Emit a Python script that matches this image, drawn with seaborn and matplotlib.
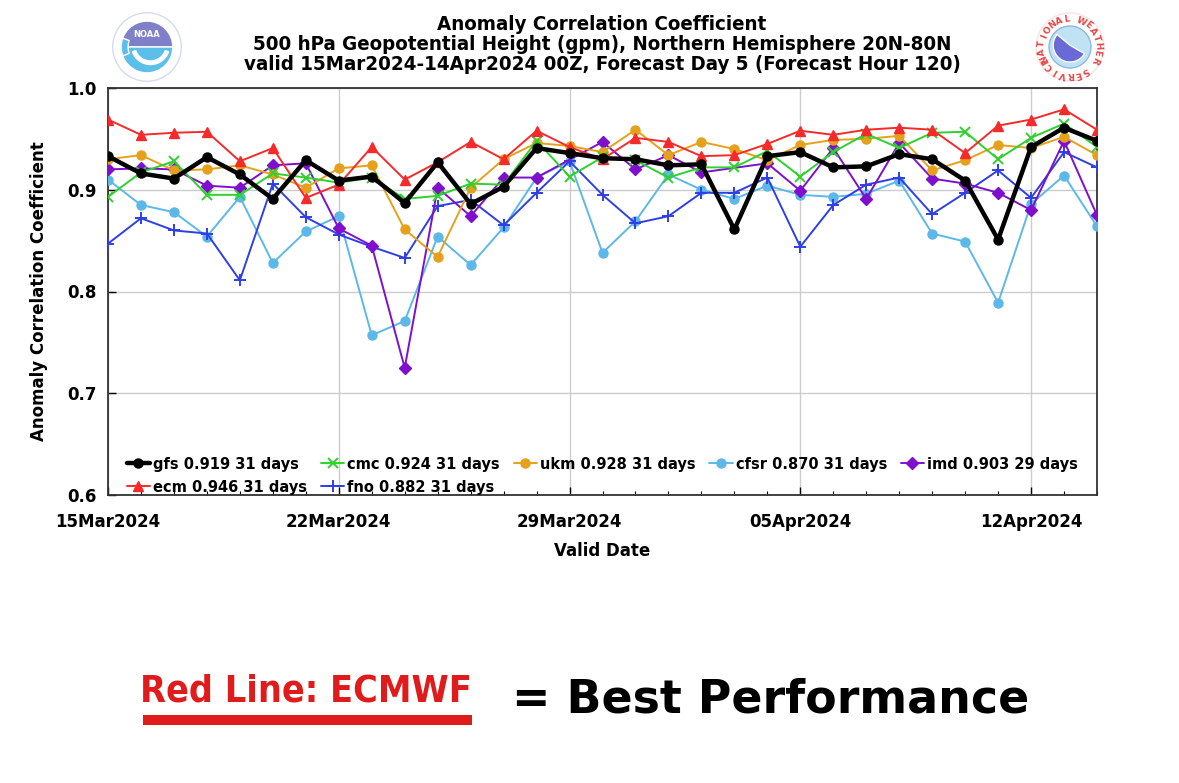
import numpy as np
import pandas as pd
import matplotlib
matplotlib.use('Agg')
import matplotlib.pyplot as plt
import matplotlib.dates as mdates
from matplotlib.patches import Circle, Wedge, Rectangle
import seaborn as sns

# Daily ACC values, 15Mar2024 .. 14Apr2024
dates = pd.date_range('2024-03-15', '2024-04-14', freq='D')

gfs = [0.933, 0.916, 0.911, 0.932, 0.915, 0.891, 0.929, 0.909, 0.913, 0.887,
       0.927, 0.886, 0.903, 0.941, 0.936, 0.931, 0.930, 0.924, 0.925, 0.861,
       0.933, 0.937, 0.922, 0.923, 0.935, 0.930, 0.909, 0.851, 0.942, 0.961, 0.948]
ecm = [0.969, 0.954, 0.956, 0.957, 0.928, 0.941, 0.892, 0.905, 0.942, 0.910,
       0.927, 0.947, 0.930, 0.958, 0.942, 0.930, 0.951, 0.947, 0.933, 0.934,
       0.945, 0.958, 0.954, 0.959, 0.961, 0.959, 0.936, 0.963, 0.969, 0.979, 0.959]
cmc = [0.893, 0.917, 0.928, 0.895, 0.895, 0.916, 0.912, 0.907, 0.912, 0.891,
       0.894, 0.906, 0.905, 0.948, 0.913, 0.932, 0.929, 0.912, 0.922, 0.922,
       0.938, 0.913, 0.937, 0.955, 0.941, 0.956, 0.957, 0.930, 0.951, 0.965, 0.942]
fno = [0.847, 0.872, 0.860, 0.857, 0.811, 0.906, 0.873, 0.856, 0.844, 0.833,
       0.884, 0.890, 0.865, 0.897, 0.928, 0.895, 0.867, 0.874, 0.897, 0.897,
       0.912, 0.844, 0.885, 0.905, 0.912, 0.876, 0.897, 0.919, 0.892, 0.937, 0.922]
ukm = [0.930, 0.934, 0.919, 0.920, 0.924, 0.915, 0.902, 0.921, 0.924, 0.861,
       0.834, 0.902, 0.930, 0.946, 0.943, 0.937, 0.959, 0.934, 0.947, 0.940,
       0.929, 0.944, 0.949, 0.950, 0.953, 0.919, 0.929, 0.944, 0.941, 0.952, 0.934]
cfsr = [0.910, 0.885, 0.878, 0.854, 0.893, 0.828, 0.859, 0.874, 0.757, 0.771,
        0.854, 0.826, 0.863, 0.912, 0.928, 0.838, 0.869, 0.915, 0.900, 0.891,
        0.904, 0.895, 0.893, 0.896, 0.909, 0.857, 0.849, 0.789, 0.886, 0.914, 0.864]
imd = [0.920, 0.921, 0.920, 0.904, 0.902, 0.924, 0.926, 0.862, 0.845, 0.725,
       0.902, 0.874, 0.912, 0.912, np.nan, 0.947, 0.920, 0.934, 0.917, np.nan,
       0.926, 0.899, 0.941, 0.891, 0.946, 0.911, 0.906, 0.897, 0.880, 0.948, 0.875]

# legend order (column-wise fill gives the two reference rows)
labels = {
    'gfs': 'gfs 0.919 31 days', 'ecm': 'ecm 0.946 31 days',
    'cmc': 'cmc 0.924 31 days', 'fno': 'fno 0.882 31 days',
    'ukm': 'ukm 0.928 31 days', 'cfsr': 'cfsr 0.870 31 days',
    'imd': 'imd 0.903 29 days',
}
series = {'gfs': gfs, 'ecm': ecm, 'cmc': cmc, 'fno': fno,
          'ukm': ukm, 'cfsr': cfsr, 'imd': imd}
styles = {
    'ecm':  dict(color='#f52a2a', marker='^', ms=7.5, lw=1.4),
    'cmc':  dict(color='#2fd12f', marker='x', ms=7, lw=1.4, mew=1.4),
    'ukm':  dict(color='#e6a11c', marker='o', ms=6.5, lw=1.4),
    'cfsr': dict(color='#5cb8e8', marker='o', ms=6.5, lw=1.4),
    'imd':  dict(color='#7f0fcc', marker='D', ms=6, lw=1.4),
    'fno':  dict(color='#2f3fe6', marker='+', ms=9, lw=1.4, mew=1.4),
    'gfs':  dict(color='black', marker='o', ms=6.5, lw=3.2),
}
title_lines = ['Anomaly Correlation Coefficient',
               '500 hPa Geopotential Height (gpm), Northern Hemisphere 20N-80N',
               'valid 15Mar2024-14Apr2024 00Z, Forecast Day 5 (Forecast Hour 120)']

sns.set_theme(style='white')
plt.rcParams['font.family'] = ['DejaVu Sans']
plt.rcParams.update({'text.color': 'black', 'axes.labelcolor': 'black',
                     'xtick.color': 'black', 'ytick.color': 'black'})

fig = plt.figure(figsize=(11.79, 7.83), dpi=100)
ax = fig.add_axes([108 / 1179, 1 - 495 / 783, (1097 - 108) / 1179, (495 - 88) / 783])

handles = {}
for name in ['cfsr', 'fno', 'imd', 'ukm', 'cmc', 'ecm', 'gfs']:
    df = pd.DataFrame({'date': dates, 'acc': series[name]}).dropna()
    st = styles[name]
    sns.lineplot(data=df, x='date', y='acc', ax=ax, color=st['color'],
                 marker=st['marker'], markersize=st['ms'], linewidth=st['lw'],
                 markeredgecolor=st['color'], markeredgewidth=st.get('mew', 1.0),
                 zorder=5 if name == 'gfs' else 3)
    handles[name] = ax.lines[-1]

ax.set_xlim(dates[0], dates[-1])
ax.set_ylim(0.6, 1.0)
ax.set_yticks([0.6, 0.7, 0.8, 0.9, 1.0])
ax.set_yticklabels(['0.6', '0.7', '0.8', '0.9', '1.0'])
ax.xaxis.set_major_locator(mdates.DayLocator(bymonthday=[15, 22, 29, 5, 12]))
ax.xaxis.set_major_formatter(mdates.DateFormatter('%d%b%Y'))
ax.xaxis.set_minor_locator(mdates.DayLocator())
ax.grid(True, which='major', color='#cccccc', linewidth=1.0)
ax.tick_params(axis='both', which='major', direction='in', length=6,
               labelsize=12, width=1)
ax.tick_params(axis='x', which='major', pad=13, bottom=True)
ax.tick_params(axis='y', which='major', pad=8, left=True)
ax.tick_params(axis='x', which='minor', direction='in', length=3, width=0.8,
               bottom=True)
for lab in ax.get_xticklabels() + ax.get_yticklabels():
    lab.set_fontweight('bold')
for sp in ax.spines.values():
    sp.set_color('#333333')
    sp.set_linewidth(1.3)

ax.set_xlabel('Valid Date', fontsize=12, fontweight='bold', labelpad=8)
ax.set_ylabel('Anomaly Correlation Coefficient', fontsize=12, fontweight='bold',
              labelpad=14)

order = ['gfs', 'ecm', 'cmc', 'fno', 'ukm', 'cfsr', 'imd']
ax.legend([handles[k] for k in order], [labels[k] for k in order],
          loc='lower left', ncol=5, frameon=False, handlelength=1.6,
          handletextpad=0.2, columnspacing=0.95, labelspacing=0.55,
          prop={'weight': 'bold', 'size': 10.5}, bbox_to_anchor=(0.016, -0.006),
          borderaxespad=0.0, borderpad=0.2)

for i, line in enumerate(title_lines):
    fig.text(602 / 1179, 1 - (25 + 20 * i) / 783, line, ha='center', va='center',
             fontsize=14.7, fontweight='bold', fontstretch='condensed')

# logos (simple shapes)
la = fig.add_axes([112 / 1179, 1 - 82 / 783, 70 / 1179, 70 / 783])
la.set_xlim(-1, 1); la.set_ylim(-1, 1); la.set_aspect('equal'); la.axis('off')
la.add_patch(Circle((0, 0), 0.98, facecolor='white', edgecolor='#d5dbee', lw=1))
la.add_patch(Wedge((0, 0), 0.74, 0, 180, facecolor='#7f80c8'))
la.add_patch(Wedge((0, 0), 0.74, 180, 360, facecolor='#5bbfea'))
la.add_patch(Wedge((0.1, 0.05), 0.55, 200, 340, width=0.1, facecolor='white'))
la.add_patch(Wedge((0, 0.0), 0.74, 160, 200, width=0.2, facecolor='#5bbfea'))
la.text(0, 0.35, 'NOAA', ha='center', va='center', color='white',
        fontsize=6, fontweight='bold')

lb = fig.add_axes([1035 / 1179, 1 - 82 / 783, 70 / 1179, 70 / 783])
lb.set_xlim(-1, 1); lb.set_ylim(-1, 1); lb.set_aspect('equal'); lb.axis('off')
lb.add_patch(Circle((0, 0), 0.97, facecolor='white', edgecolor='#fbe1e1', lw=1))
ring = 'NATIONAL WEATHER SERVICE'
for i, ch in enumerate(ring):
    a = np.deg2rad(205 - i * 15.5)
    lb.text(0.8 * np.cos(a), 0.8 * np.sin(a), ch, ha='center', va='center',
            color='#e84848', fontsize=6.5, fontweight='bold',
            rotation=np.rad2deg(a) - 90)
lb.add_patch(Circle((0, 0), 0.6, facecolor='#bfe3f5', edgecolor='#8fb8e0', lw=1))
lb.add_patch(Wedge((0, 0.05), 0.48, 140, 330, facecolor='#6a6ad6'))

# bottom annotation
fig.text(140 / 1179, 1 - 691 / 783, 'Red Line: ECMWF', ha='left', va='center',
         color='#e01b1b', fontsize=27, fontweight='bold', fontstretch='condensed')
fig.patches.append(Rectangle((143 / 1179, 1 - 725 / 783), (472 - 143) / 1179, 10 / 783,
                             transform=fig.transFigure, facecolor='#e01b1b',
                             edgecolor='none'))
fig.text(512 / 1179, 1 - 700 / 783, '= Best Performance', ha='left', va='center',
         color='black', fontsize=33, fontweight='bold')

fig.savefig('out.png', dpi=100)
